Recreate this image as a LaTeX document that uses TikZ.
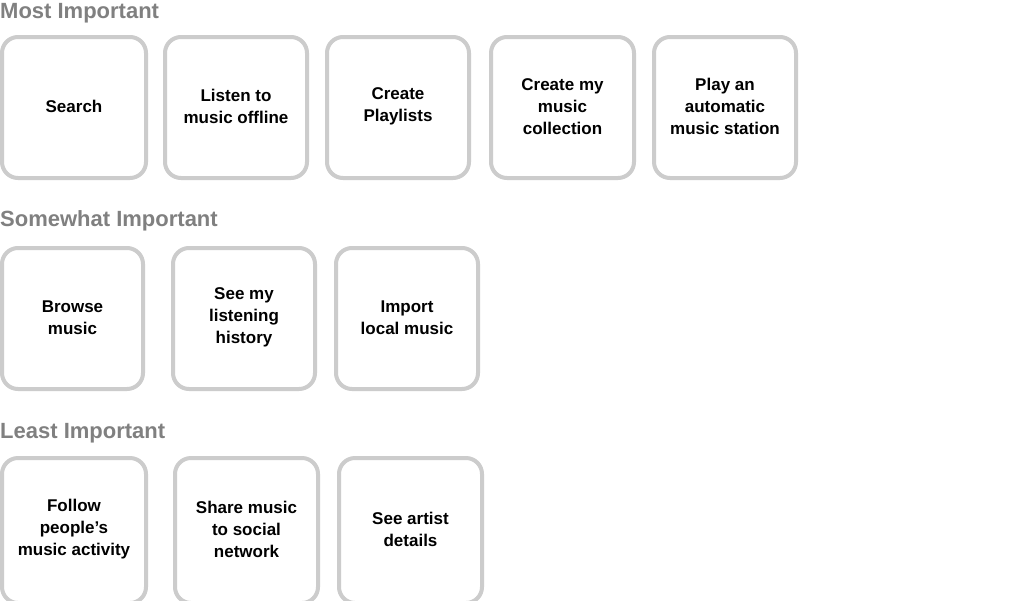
\documentclass[tikz,border=0pt]{standalone}
\usepackage{fontspec}
\setmainfont{Liberation Sans}
\begin{document}
\begin{tikzpicture}[x=1pt,y=-1pt,
  card/.style={draw=black!20,line width=4pt,rounded corners=16pt,fill=white},
  lbl/.style={font=\bfseries\fontsize{17}{22}\selectfont,align=center,text=black},
  head/.style={font=\bfseries\fontsize{22}{26}\selectfont,text=black!50,anchor=west,inner sep=0pt}]
\useasboundingbox[clip] (0,0) rectangle (1024,600);
\fill[white] (0,0) rectangle (1024,600);
\node[head] (h1) at (0,13) {Most Important};
\node[head] (h2) at (0,221) {Somewhat Important};
\node[head] (h3) at (0,433) {Least Important};
\foreach \a/\b/\t/\bb/\txt/\n in {
  2/146/37/178/{Search}/a1,
  165/307/37/178/{Listen to\\music offline}/a2,
  327/469/37/178/{Create\\Playlists}/a3,
  491/634/37/178/{Create my\\music\\collection}/a4,
  654/796/37/178/{Play an\\automatic\\music station}/a5,
  2/143/248/389/{Browse\\music}/b1,
  173/315/248/389/{See my\\listening\\history}/b2,
  336/478/248/389/{Import\\local music}/b3,
  2/146/458/603/{Follow\\people’s\\music activity}/c1,
  175/318/458/603/{Share music\\to social\\network}/c2,
  339/482/458/603/{See artist\\details}/c3}{
  \draw[card] (\a,\t) rectangle (\b,\bb);
  \node[lbl] (\n) at ({(\a+\b)/2},{(\t+\bb)/2-1}) {\txt};
}
\end{tikzpicture}
\end{document}
